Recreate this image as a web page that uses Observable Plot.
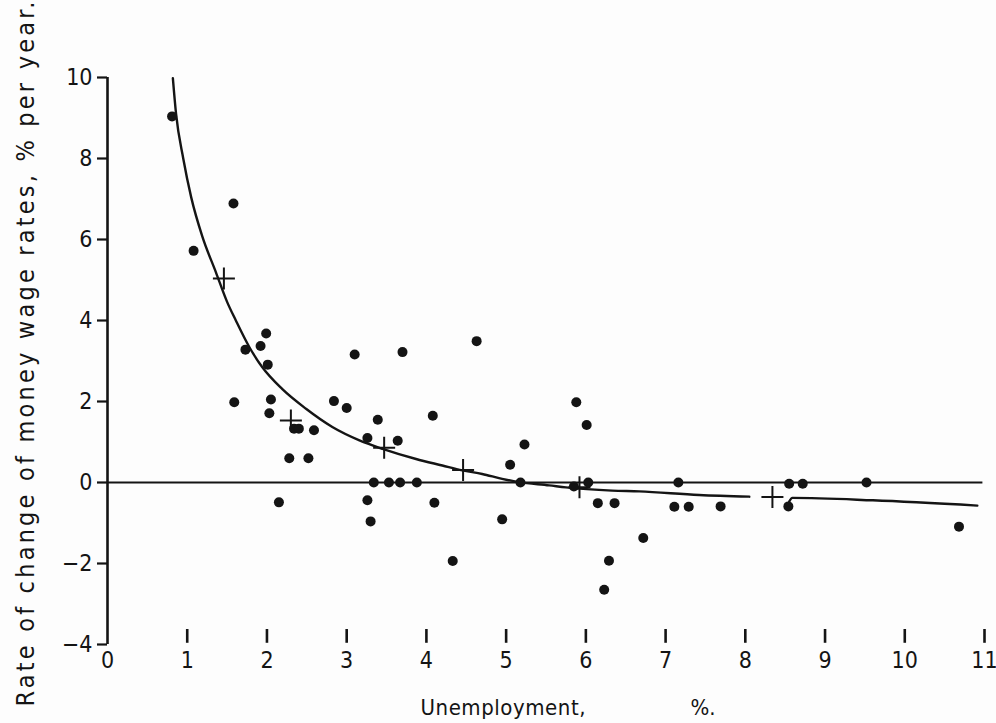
<!DOCTYPE html>
<html>
<head>
<meta charset="utf-8">
<script src="https://cdn.jsdelivr.net/npm/d3@7"></script>
<script src="https://cdn.jsdelivr.net/npm/@observablehq/plot@0.6"></script>
<style>
  html, body { margin: 0; padding: 0; background: #fdfdfd; }
  #chart svg { display: block; }
</style>
</head>
<body>
<div id="chart"></div>
<script>
// Unemployment (%) of each observed year
const dotX = [0.81, 1.08, 1.58, 1.59, 1.73, 1.92, 1.99, 2.01, 2.05, 2.03,
  2.34, 2.40, 2.59, 2.28, 2.52, 2.15, 2.84, 3.00, 3.10, 3.70,
  3.39, 3.26, 3.64, 3.34, 3.53, 3.67, 3.88, 3.26, 3.30, 4.08,
  4.10, 4.33, 4.63, 4.95, 5.05, 5.23, 5.18, 5.88, 6.01, 6.03,
  5.85, 6.15, 6.36, 6.29, 6.23, 6.72, 7.16, 7.11, 7.29, 7.69,
  8.55, 8.72, 8.54, 9.52, 10.68];
// Rate of change of money wage rates (% per year)
const dotY = [9.04, 5.72, 6.89, 1.98, 3.28, 3.37, 3.68, 2.91, 2.05, 1.71,
  1.33, 1.33, 1.29, 0.60, 0.60, -0.49, 2.01, 1.84, 3.16, 3.22,
  1.55, 1.10, 1.03, 0, 0, 0, 0, -0.44, -0.96, 1.65,
  -0.50, -1.94, 3.49, -0.91, 0.44, 0.94, 0, 1.98, 1.42, 0,
  -0.10, -0.51, -0.51, -1.93, -2.65, -1.37, 0, -0.60, -0.60, -0.59,
  -0.03, -0.03, -0.59, 0, -1.09];

// Group averages (crosses)
const crossX = [1.46, 2.30, 3.47, 4.46, 5.92, 8.34];
const crossY = [5.04, 1.53, 0.86, 0.31, -0.12, -0.36];

// Fitted curve (two drawn pieces)
const curve1X = [0.82, 0.86, 0.95, 1.05, 1.19, 1.36, 1.50, 1.61, 1.78, 1.94,
  2.19, 2.49, 2.82, 3.16, 3.45, 3.87, 4.20, 4.45, 4.70, 4.95,
  5.16, 5.54, 5.75, 6.33, 6.67, 7.42, 8.05];
const curve1Y = [9.98, 9.10, 8.00, 7.04, 6.07, 5.19, 4.46, 4.00, 3.34, 2.85,
  2.31, 1.82, 1.37, 1.04, 0.83, 0.58, 0.42, 0.30, 0.21, 0.09,
  0.01, -0.07, -0.12, -0.20, -0.22, -0.31, -0.35];
const curve2X = [8.55, 8.59, 9.60, 10.91];
const curve2Y = [-0.47, -0.38, -0.44, -0.57];

const xTickLabels = [0, 1, 2, 3, 4, 5, 6, 7, 8, 9, 10, 11];
const xTickMarks = [1, 2, 3, 4, 5, 6, 7, 8, 9, 10, 11];
const yTickLabels = [-4, -2, 0, 2, 4, 6, 8, 10];

const yTitle = "Rate of change of money wage rates, % per year.";
const xTitle1 = "Unemployment,";
const xTitle2 = "%.";

const dots = dotX.map((x, i) => ({x, y: dotY[i]}));
const crosses = crossX.map((x, i) => ({x, y: crossY[i]}));
const curve = [
  ...curve1X.map((x, i) => ({x, y: curve1Y[i], seg: 1})),
  ...curve2X.map((x, i) => ({x, y: curve2Y[i], seg: 2}))
];

const plusSymbol = {
  draw(ctx, size) {
    const r = Math.sqrt(size / Math.PI);
    ctx.moveTo(-r, 0); ctx.lineTo(r, 0);
    ctx.moveTo(0, -r); ctx.lineTo(0, r);
  }
};

const ink = "#141414";
const font = "'DejaVu Sans Condensed', 'DejaVu Sans', sans-serif";

const chart = Plot.plot({
  width: 996,
  height: 723,
  marginLeft: 107,
  marginRight: 12,
  marginTop: 77,
  marginBottom: 79,
  style: {background: "#fdfdfd", color: ink, fontFamily: font, fontSize: "22px", overflow: "visible"},
  x: {domain: [0, 11]},
  y: {domain: [-4, 10]},
  marks: [
    Plot.axisY({ticks: yTickLabels, tickSize: 10, tickPadding: 5, label: null, stroke: ink, strokeWidth: 2.2, fontSize: 23, tickFormat: d => d < 0 ? "\u2212" + Math.abs(d) : String(d)}),
    Plot.axisX({ticks: xTickLabels, tickSize: 0, tickPadding: 7, label: null, fontSize: 23}),
    Plot.ruleX(xTickMarks, {x: d => d, y1: -3.97, y2: -3.63, stroke: ink, strokeWidth: 2.6}),
    Plot.ruleX([0], {y1: -4, y2: 10, stroke: ink, strokeWidth: 2.6}),
    Plot.ruleY([0], {x1: 0, x2: 10.98, stroke: ink, strokeWidth: 2}),
    Plot.line(curve, {x: "x", y: "y", z: "seg", curve: "monotone-x", stroke: ink, strokeWidth: 2.4}),
    Plot.dot(crosses, {x: "x", y: "y", symbol: plusSymbol, r: 11, stroke: ink, strokeWidth: 2, fill: "none"}),
    Plot.dot(dots, {x: "x", y: "y", r: 5, fill: ink, stroke: "none"}),
    Plot.text([yTitle], {frameAnchor: "left", rotate: -90, dx: -74, dy: -7, textAnchor: "middle", lineAnchor: "bottom", fontSize: 25, fill: ink}),
    Plot.text([xTitle1], {frameAnchor: "bottom-left", dx: 313, dy: 63, textAnchor: "start", lineAnchor: "middle", fontSize: 22, fill: ink}),
    Plot.text([xTitle2], {frameAnchor: "bottom-left", dx: 583, dy: 63, textAnchor: "start", lineAnchor: "middle", fontSize: 22, fill: ink})
  ]
});
// stretch the titles to the width they take in the figure
d3.select(chart).selectAll("text").each(function () {
  const t = this.textContent;
  if (t === yTitle) { this.setAttribute("textLength", 705); this.setAttribute("lengthAdjust", "spacing"); }
  if (t === xTitle1) { this.setAttribute("textLength", 165); this.setAttribute("lengthAdjust", "spacing"); }
});
document.getElementById("chart").appendChild(chart);
</script>
</body>
</html>
